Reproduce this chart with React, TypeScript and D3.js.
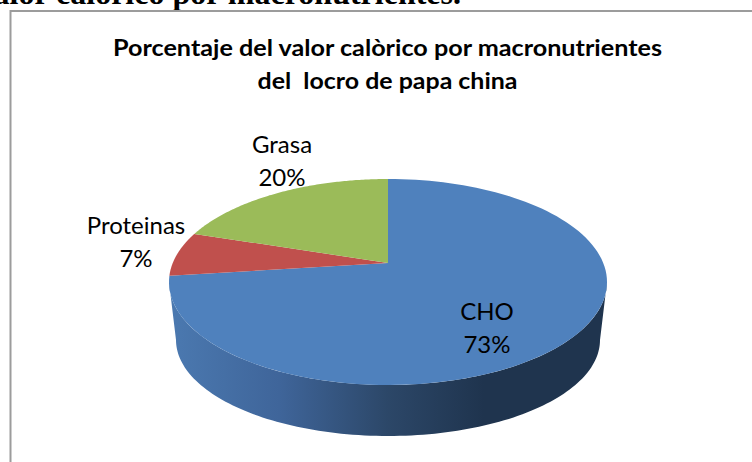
import React from "react";
import * as d3 from "d3";

const categories = ["CHO", "Proteinas", "Grasa"];
const values = [73, 7, 20];
const sliceColors = ["#4f81bd", "#c0504d", "#9bbb59"];
const titleLines = ["Porcentaje del valor calòrico por macronutrientes", "del  locro de papa china"];
const titleWidths = [549, 260];
const clippedHeading = "valor calórico por macronutrientes.";

const W = 752, H = 462;
const cx = 388;
// perspective projection of the pie's disc
const yFar = 179, yMid = 263, yNear = 385, halfWidth = 219;
const persp = (2 * yMid - yFar - yNear) / (yNear - yFar);
const a = yMid - yFar + yFar * persp;
const R = halfWidth * Math.sqrt(1 - persp * persp);
const project = (angle: number): [number, number] => {
  const u = Math.sin(angle), v = -Math.cos(angle);
  const w = 1 + persp * v;
  return [cx + (R * u) / w, (a * v + yMid) / w];
};
// base rim of the disc
const topCy = (yFar + yNear) / 2;
const baseCy = 340, baseRx = 212, baseRy = 96;
const projectBase = (angle: number): [number, number] => {
  const [x, y] = project(angle);
  return [cx + ((x - cx) * baseRx) / halfWidth, baseCy + ((y - topCy) * baseRy) / ((yNear - yFar) / 2)];
};

const pieGen = d3.pie<number>().sort(null).startAngle(0).endAngle(2 * Math.PI);
const arcs = pieGen(values);
const line = d3.line();

const sample = (from: number, to: number, fn: (t: number) => [number, number]) =>
  d3.range(0, 121).map((i) => fn(from + ((to - from) * i) / 120));

const slicePath = (start: number, end: number) =>
  line([[cx, yMid], ...sample(start, end, project)]) + "Z";

// front of the side wall: between the two horizontal extremes of the disc
const sideStart = Math.PI / 2 - Math.asin(persp);
const sidePath =
  line([
    ...sample(sideStart, 2 * Math.PI - sideStart, project),
    ...sample(2 * Math.PI - sideStart, sideStart, projectBase),
  ]) + "Z";

const labelFont = "Lato, 'Open Sans', sans-serif";
const labelPos: Record<string, [number, number]> = {
  CHO: [487, 320],
  Proteinas: [136, 234],
  Grasa: [282, 153],
};

export default function App() {
  return (
    <svg width={W} height={H} viewBox={`0 0 ${W} ${H}`} style={{ position: "fixed", left: 0, top: 0, background: "#fff" }}>
      <defs>
        <linearGradient id="side" gradientUnits="userSpaceOnUse" x1={170} x2={606} y1={0} y2={0}>
          <stop offset="0" stopColor="#4b79b0" />
          <stop offset="0.25" stopColor="#3f659a" />
          <stop offset="0.5" stopColor="#2c4768" />
          <stop offset="0.72" stopColor="#1f344e" />
          <stop offset="1" stopColor="#1f344e" />
        </linearGradient>
      </defs>
      <text x={461} y={3.5} textAnchor="end" fontFamily="'Liberation Serif', serif" fontWeight="bold" fontSize={32} fill="#000">
        {clippedHeading}
      </text>
      <path d={`M${W} 11H10.5V${H}`} fill="none" stroke="#9c9c9c" strokeWidth={2} />
      {titleLines.map((t, i) => (
        <text key={i} x={387.5} y={56 + i * 33} textAnchor="middle" fontFamily={labelFont} fontWeight="bold" fontSize={22} fill="#000" xmlSpace="preserve" textLength={titleWidths[i]} lengthAdjust="spacingAndGlyphs">
          {t}
        </text>
      ))}
      <path d={sidePath} fill="url(#side)" />
      {arcs.map((d, i) => (
        <path key={categories[i]} d={slicePath(d.startAngle, d.endAngle)} fill={sliceColors[i]} />
      ))}
      {categories.map((name, i) => {
        const [x, y] = labelPos[name];
        return (
          <text key={name} x={x} y={y} textAnchor="middle" fontFamily={labelFont} fontSize={24} fill="#000">
            <tspan x={x}>{name}</tspan>
            <tspan x={x} dy={33}>{values[i]}%</tspan>
          </text>
        );
      })}
    </svg>
  );
}
